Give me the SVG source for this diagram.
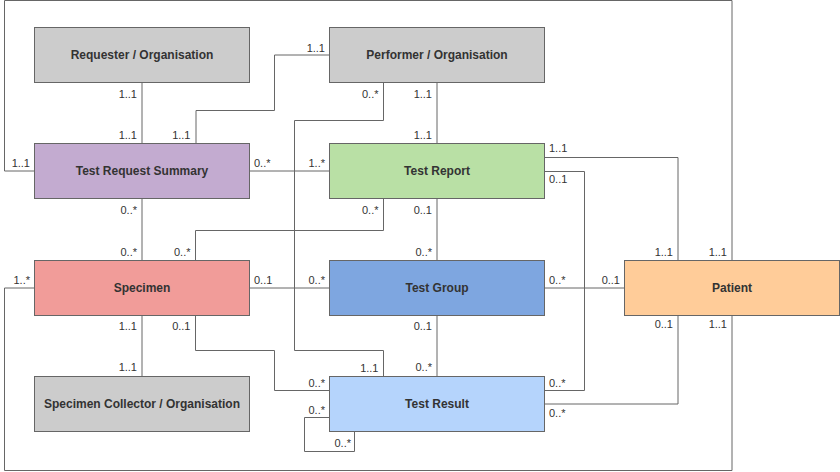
<svg xmlns="http://www.w3.org/2000/svg" width="840" height="472" viewBox="0 0 840 472">
<style>
.n{stroke:#666666;stroke-width:1}
.nt{font-family:"Liberation Sans",Arial,sans-serif;font-size:12px;font-weight:bold;fill:#333333;text-anchor:middle}
.e{fill:none;stroke:#666666;stroke-width:1}
.l{font-family:"Liberation Sans",Arial,sans-serif;font-size:11px;fill:#333333}
.r{text-anchor:end}
</style>
<rect width="840" height="472" fill="#ffffff"/>
<g id="connectors">
<path class="e" d="M142,82.5 V143.5"/>
<path class="e" d="M196,143.5 V110.5 H274.5 V55 H329.5"/>
<path class="e" d="M249.5,171 H329.5"/>
<path class="e" d="M383.5,82.5 V120.5 H294.5 V350.5 H383.5 V376.5"/>
<path class="e" d="M437,82.5 V143.5"/>
<path class="e" d="M383.5,198.5 V230.5 H195.5 V260.5"/>
<path class="e" d="M142,198.5 V260.5"/>
<path class="e" d="M437,198.5 V260.5"/>
<path class="e" d="M544.5,157.5 H678 V260.5"/>
<path class="e" d="M544.5,171.5 H584.5 V390.5 H544.5"/>
<path class="e" d="M249.5,288 H329.5"/>
<path class="e" d="M544.5,288 H624.5"/>
<path class="e" d="M142,315.5 V376.5"/>
<path class="e" d="M195.5,315.5 V350.5 H274.5 V390.5 H329.5"/>
<path class="e" d="M329.5,417.5 H304.5 V451.5 H354.5 V431.5"/>
<path class="e" d="M544.5,404 H678 V315.5"/>
<path class="e" d="M437,315.5 V376.5"/>
<path class="e" d="M34.5,171 H4.5 V0.5 H732 V260.5"/>
<path class="e" d="M732,315.5 V470.5 H4.5 V288 H34.5"/>
<g class="l">
<text class="r" x="137" y="97.5">1..1</text>
<text class="r" x="137" y="138.5">1..1</text>
<text class="r" x="190.5" y="138.5">1..1</text>
<text class="r" x="325" y="51.5">1..1</text>
<text x="254" y="167">0..*</text>
<text class="r" x="325" y="167">1..*</text>
<text class="r" x="378.5" y="97.5">0..*</text>
<text class="r" x="378.5" y="371.5">1..1</text>
<text class="r" x="432" y="97.5">1..1</text>
<text class="r" x="432" y="138.5">1..1</text>
<text class="r" x="378.5" y="213.5">0..*</text>
<text class="r" x="190.5" y="256">0..*</text>
<text class="r" x="137" y="213.5">0..*</text>
<text class="r" x="137" y="256">0..*</text>
<text class="r" x="432" y="213.5">0..1</text>
<text class="r" x="432" y="256">0..*</text>
<text x="549" y="152">1..1</text>
<text class="r" x="673" y="256">1..1</text>
<text x="549" y="182.5">0..1</text>
<text x="549" y="387">0..*</text>
<text x="254" y="284">0..1</text>
<text class="r" x="325" y="284">0..*</text>
<text x="549" y="284">0..*</text>
<text class="r" x="620" y="284">0..1</text>
<text class="r" x="137" y="330">1..1</text>
<text class="r" x="137" y="371">1..1</text>
<text class="r" x="190.5" y="330">0..1</text>
<text class="r" x="325" y="387">0..*</text>
<text class="r" x="325" y="414">0..*</text>
<text class="r" x="351" y="447">0..*</text>
<text x="549" y="417">0..*</text>
<text class="r" x="673" y="328">0..1</text>
<text class="r" x="432" y="330">0..1</text>
<text class="r" x="432" y="371">0..*</text>
<text class="r" x="30" y="167">1..1</text>
<text class="r" x="727" y="256">1..1</text>
<text class="r" x="727" y="328">1..1</text>
<text class="r" x="30" y="284">1..*</text>
</g>
</g>
<g id="requester">
<rect class="n" x="34.5" y="27.5" width="215" height="55" fill="#CCCCCC"/>
<text class="nt" x="142" y="59">Requester / Organisation</text>
</g>
<g id="performer">
<rect class="n" x="329.5" y="27.5" width="215" height="55" fill="#CCCCCC"/>
<text class="nt" x="437" y="59">Performer / Organisation</text>
</g>
<g id="test-request-summary">
<rect class="n" x="34.5" y="143.5" width="215" height="55" fill="#C3ABD0"/>
<text class="nt" x="142" y="175">Test Request Summary</text>
</g>
<g id="test-report">
<rect class="n" x="329.5" y="143.5" width="215" height="55" fill="#B9E0A5"/>
<text class="nt" x="437" y="175">Test Report</text>
</g>
<g id="specimen">
<rect class="n" x="34.5" y="260.5" width="215" height="55" fill="#F19C99"/>
<text class="nt" x="142" y="292">Specimen</text>
</g>
<g id="test-group">
<rect class="n" x="329.5" y="260.5" width="215" height="55" fill="#7EA6E0"/>
<text class="nt" x="437" y="292">Test Group</text>
</g>
<g id="patient">
<rect class="n" x="624.5" y="260.5" width="215" height="55" fill="#FFCC99"/>
<text class="nt" x="732" y="292">Patient</text>
</g>
<g id="specimen-collector">
<rect class="n" x="34.5" y="376.5" width="215" height="55" fill="#CCCCCC"/>
<text class="nt" x="142" y="408">Specimen Collector / Organisation</text>
</g>
<g id="test-result">
<rect class="n" x="329.5" y="376.5" width="215" height="55" fill="#B5D4FC"/>
<text class="nt" x="437" y="408">Test Result</text>
</g>
</svg>
